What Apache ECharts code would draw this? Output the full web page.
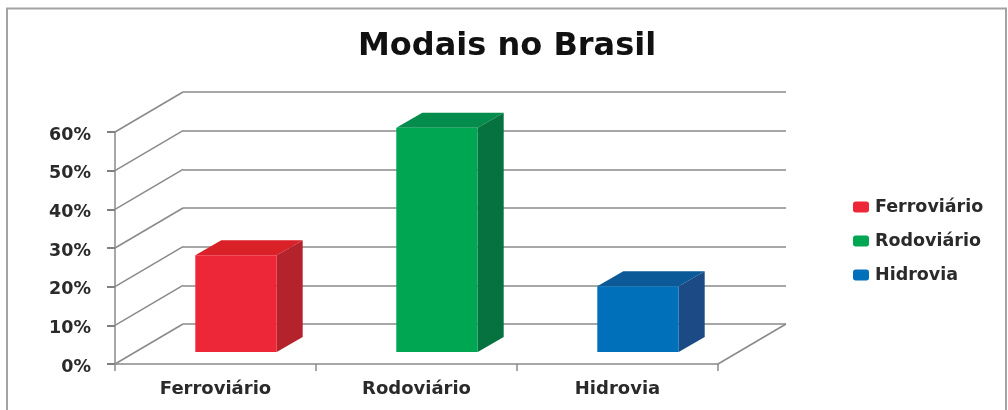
<!DOCTYPE html>
<html lang="pt">
<head>
    <meta charset="UTF-8">
    <title>Modais no Brasil</title>
    <script src="https://cdn.jsdelivr.net/npm/echarts@6/dist/echarts.min.js"></script>
    <style>
        html, body { margin: 0; padding: 0; background: #fff; }
    </style>
</head>
<body>
<div id="main" style="width: 1008px;height:410px;"></div>

<script type="text/javascript">
    var categorias = ['Ferroviário', 'Rodoviário', 'Hidrovia'];
    var valores = [25, 58, 17];
    var marcasY = [0, 10, 20, 30, 40, 50, 60];

    var coresFrente = ['#ED2738', '#00A651', '#0070BA'];
    var coresTopo = ['#DA2128', '#038C4B', '#0B5A97'];
    var coresLado = ['#B4232B', '#067240', '#1B4A85'];

    var corLinha = '#8A8A8A';
    var fonte = '"DejaVu Sans", sans-serif';

    // deslocamento da perspectiva, em px
    var fundoX = 68, fundoY = -40;
    var barraX = 20.5, barraY = -12;
    var profX = 26, profY = -15;

    function desenhaBarra(i) {
        return function (params, api) {
            var topo = api.coord([i, api.value(1)]);
            var base = api.coord([i, 0]);
            var larg = api.size([1, 0])[0] * 0.405;
            var x0 = topo[0] - larg / 2 + barraX;
            var x1 = x0 + larg;
            var y0 = topo[1] + barraY;
            var y1 = base[1] + barraY;
            return {
                type: 'group',
                children: [
                    { type: 'polygon', shape: { points: [[x0, y0], [x1, y0], [x1 + profX, y0 + profY], [x0 + profX, y0 + profY]] }, style: { fill: coresTopo[i] } },
                    { type: 'polygon', shape: { points: [[x1, y0], [x1 + profX, y0 + profY], [x1 + profX, y1 + profY], [x1, y1]] }, style: { fill: coresLado[i] } },
                    { type: 'rect', shape: { x: x0, y: y0, width: larg, height: y1 - y0 }, style: { fill: coresFrente[i] } }
                ]
            };
        };
    }

    function desenhaDiagonal(params, api) {
        var cs = params.coordSys;
        var p = api.coord([0, api.value(0)]);
        var filhos = [
            { type: 'line', shape: { x1: cs.x, y1: p[1], x2: cs.x + fundoX, y2: p[1] + fundoY }, style: { stroke: corLinha, lineWidth: 1.5 } }
        ];
        // piso: lado direito
        if (api.value(0) === 0) {
            filhos.push({ type: 'line', shape: { x1: cs.x + cs.width, y1: p[1], x2: cs.x + cs.width + fundoX, y2: p[1] + fundoY }, style: { stroke: corLinha, lineWidth: 1.5 } });
        }
        return { type: 'group', children: filhos };
    }

    var series = [{
        name: 'diagonais',
        type: 'custom',
        xAxisIndex: 0,
        yAxisIndex: 0,
        silent: true,
        z: 1,
        data: marcasY.map(function (v) { return [v]; }),
        encode: { y: 0 },
        renderItem: desenhaDiagonal
    }];

    categorias.forEach(function (nome, i) {
        series.push({
            name: nome,
            type: 'custom',
            xAxisIndex: 0,
            yAxisIndex: 0,
            z: 5,
            itemStyle: { color: coresFrente[i] },
            data: [[i, valores[i]]],
            encode: { x: 0, y: 1 },
            renderItem: desenhaBarra(i)
        });
    });

    var myChart = echarts.init(document.getElementById('main'));
    var option = {
        animation: false,
        backgroundColor: '#fff',
        title: {
            text: 'Modais no Brasil',
            left: 353,
            top: 26,
            textStyle: { fontFamily: fonte, fontSize: 32, fontWeight: 'bold', color: '#111' }
        },
        legend: {
            data: categorias,
            orient: 'vertical',
            left: 853,
            top: 198,
            padding: 0,
            itemWidth: 16,
            itemHeight: 11,
            itemGap: 16,
            textStyle: { fontFamily: fonte, fontSize: 17.5, fontWeight: 'bold', color: '#2A2A2A', padding: [0, 0, 0, 1] }
        },
        graphic: [{
            type: 'rect',
            silent: true,
            z: -1,
            shape: { x: 7, y: 8.5, width: 999, height: 420 },
            style: { fill: 'none', stroke: '#A3A3A3', lineWidth: 2 }
        }],
        grid: [
            { left: 115, top: 132, width: 603, height: 232 },
            { left: 183, top: 92, width: 603, height: 232 }
        ],
        xAxis: [
            {
                type: 'category',
                gridIndex: 0,
                data: categorias,
                axisLine: { lineStyle: { color: corLinha, width: 1.5 } },
                axisTick: { show: true, length: 7, alignWithLabel: false, lineStyle: { color: corLinha, width: 1.5 } },
                axisLabel: { margin: 16, fontFamily: fonte, fontSize: 18, fontWeight: 'bold', color: '#2A2A2A' }
            },
            {
                type: 'category',
                gridIndex: 1,
                data: categorias,
                axisLine: { show: false },
                axisTick: { show: false },
                axisLabel: { show: false }
            }
        ],
        yAxis: [
            {
                type: 'value',
                gridIndex: 0,
                min: 0,
                max: 60,
                interval: 10,
                axisLine: { show: true, onZero: false, lineStyle: { color: corLinha, width: 1.5 } },
                axisTick: { show: true, inside: false, length: 8, lineStyle: { color: '#808080', width: 2 } },
                splitLine: { show: false },
                axisLabel: {
                    margin: 24,
                    formatter: '{a|{value}%}',
                    rich: {
                        a: { padding: [6, 0, 0, 0], fontFamily: fonte, fontSize: 17.5, fontWeight: 'bold', color: '#2A2A2A' }
                    }
                }
            },
            {
                type: 'value',
                gridIndex: 1,
                min: 0,
                max: 60,
                interval: 10,
                axisLine: { show: false },
                axisTick: { show: false },
                axisLabel: { show: false },
                splitLine: { show: true, lineStyle: { color: corLinha, width: 1.5 } }
            }
        ],
        series: series
    };
    myChart.setOption(option);
</script>
</body>
</html>
